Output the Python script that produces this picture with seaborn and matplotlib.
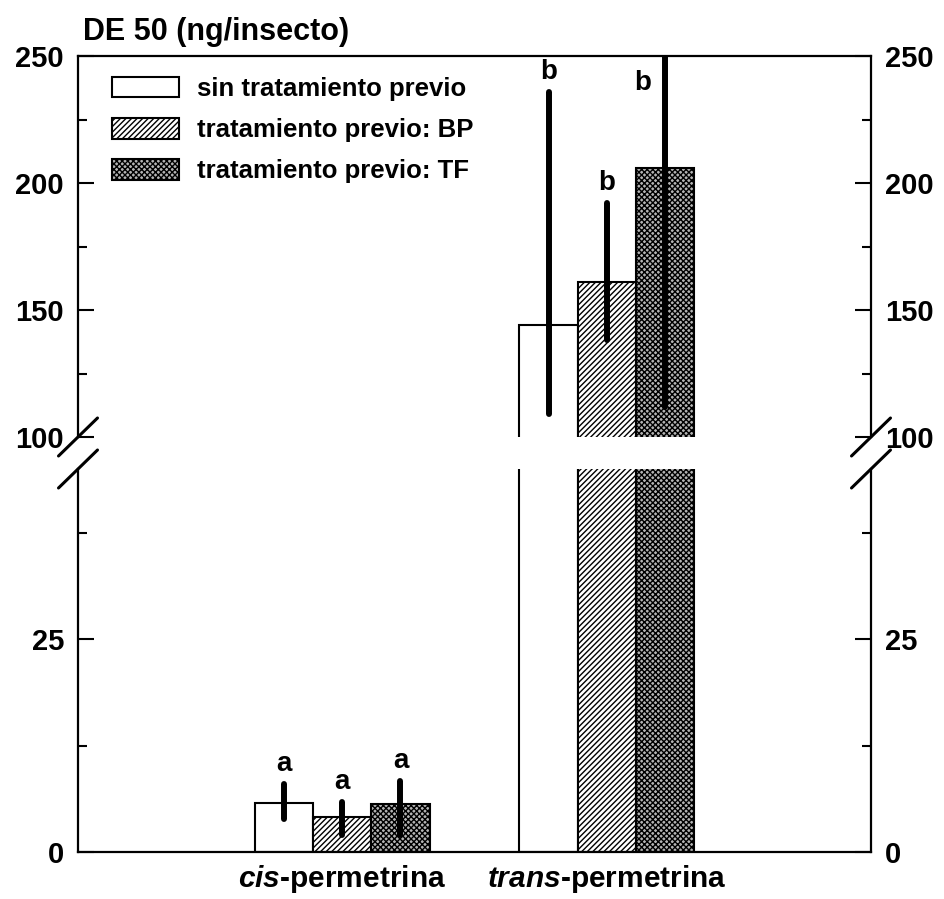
import numpy as np
import pandas as pd
import matplotlib
matplotlib.use("Agg")
import matplotlib.pyplot as plt
import seaborn as sns
from matplotlib.patches import Patch
from matplotlib.lines import Line2D
from matplotlib.ticker import FixedLocator

sns.set_theme(style="white")
plt.rcParams["font.family"] = ["Liberation Sans", "DejaVu Sans"]
plt.rcParams["font.weight"] = "bold"
plt.rcParams["text.color"] = "black"
plt.rcParams["mathtext.fontset"] = "custom"
plt.rcParams["mathtext.it"] = "Liberation Sans:italic:bold"
plt.rcParams["mathtext.rm"] = "Liberation Sans:bold"
plt.rcParams["hatch.linewidth"] = 1.0

# ---- data -------------------------------------------------------------
insecticides = ["cis", "trans"]
tick_labels = [r"$\it{cis}$-permetrina", r"$\it{trans}$-permetrina"]
treatments = ["sin tratamiento previo", "tratamiento previo: BP", "tratamiento previo: TF"]

de50_cis = [5.8, 4.1, 5.6]
de50_trans = [144, 161, 206]
low_cis = [3.9, 2.0, 2.0]
high_cis = [8.0, 5.9, 8.3]
low_trans = [109, 138, 112]
high_trans = [236, 192, 300]
letters_cis = ["a", "a", "a"]
letters_trans = ["b", "b", "b"]

rows = []
for i, t in enumerate(treatments):
    rows.append(("cis", t, de50_cis[i], low_cis[i], high_cis[i], letters_cis[i]))
    rows.append(("trans", t, de50_trans[i], low_trans[i], high_trans[i], letters_trans[i]))
df = pd.DataFrame(rows, columns=["insecticida", "tratamiento", "de50", "lo", "hi", "letra"])

# ---- styles -----------------------------------------------------------
face = {treatments[0]: "white", treatments[1]: "white", treatments[2]: "#b4b4b4"}
hatch = {treatments[0]: "", treatments[1]: "//////", treatments[2]: "xxxxxx"}

W, H = 945, 899
fig = plt.figure(figsize=(W / 100, H / 100), dpi=100)
left, right = 78 / W, 871 / W
ax_up = fig.add_axes([left, 1 - 437 / H, right - left, (437 - 56) / H])
ax_lo = fig.add_axes([left, 1 - 852 / H, right - left, (852 - 469) / H])

for ax in (ax_up, ax_lo):
    sns.barplot(data=df, x="insecticida", y="de50", hue="tratamiento",
                order=insecticides, hue_order=treatments, width=0.66,
                errorbar=None, legend=False, ax=ax)
    for t, cont in zip(treatments, ax.containers):
        for bar, cat in zip(cont, insecticides):
            bar.set_facecolor(face[t])
            bar.set_edgecolor("black")
            bar.set_linewidth(1.5)
            bar.set_hatch(hatch[t])
            r = df[(df.tratamiento == t) & (df.insecticida == cat)].iloc[0]
            xc = bar.get_x() + bar.get_width() / 2
            ax.plot([xc, xc], [r.lo, r.hi], color="black", lw=4.3,
                    solid_capstyle="round", zorder=5)
    ax.set_xlim(-1, 2)
    ax.set_xlabel("")
    ax.set_ylabel("")
    for s in ax.spines.values():
        s.set_color("black")
        s.set_linewidth(1.6)
    ax.tick_params(axis="y", which="both", direction="in", left=True, right=True,
                   labelleft=True, labelright=True, colors="black", labelsize=21,
                   pad=10, width=1.5)
    ax.tick_params(axis="y", which="major", length=11.5)
    ax.tick_params(axis="y", which="minor", length=6.5)

ax_up.set_ylim(100, 250)
ax_lo.set_ylim(0, 45)

# letter annotations above the error bars
for ax, cat_here in ((ax_up, "trans"), (ax_lo, "cis")):
    ytop = ax.get_ylim()[1]
    for t, cont in zip(treatments, ax.containers):
        for bar, cat in zip(cont, insecticides):
            if cat != cat_here:
                continue
            r = df[(df.tratamiento == t) & (df.insecticida == cat)].iloc[0]
            xc = bar.get_x() + bar.get_width() / 2
            if r.hi > ytop:
                ax.annotate(r.letra, (xc, ytop), xytext=(-16, -10),
                            textcoords="offset points", ha="center", va="top",
                            fontsize=20, fontweight="bold", color="black")
            else:
                ax.annotate(r.letra, (xc, r.hi), xytext=(0, 5),
                            textcoords="offset points", ha="center", va="bottom",
                            fontsize=20, fontweight="bold", color="black")

ax_up.yaxis.set_major_locator(FixedLocator([100, 150, 200, 250]))
ax_up.yaxis.set_minor_locator(FixedLocator([125, 175, 225]))
ax_up.spines["bottom"].set_visible(False)
ax_up.tick_params(axis="x", bottom=False, labelbottom=False)

ax_lo.yaxis.set_major_locator(FixedLocator([0, 25]))
ax_lo.yaxis.set_minor_locator(FixedLocator([12.5, 37.5]))
ax_lo.spines["top"].set_visible(False)
ax_lo.set_xticks(range(len(insecticides)))
ax_lo.set_xticklabels(tick_labels)
ax_lo.tick_params(axis="x", bottom=False, labelsize=21.5, pad=2, colors="black")

# broken-axis marks on both spines
for yb in (437, 469):
    for xs in (78, 871):
        fig.add_artist(Line2D([(xs - 19.5) / W, (xs + 19.5) / W],
                              [1 - (yb + 19) / H, 1 - (yb - 19) / H],
                              transform=fig.transFigure, color="black", lw=2.2))

# legend
handles = [Patch(facecolor=face[t], edgecolor="black", hatch=hatch[t], linewidth=1.5)
           for t in treatments]
leg = ax_up.legend(handles, treatments, loc="upper left",
                   bbox_to_anchor=((112 - 78) / 793, (437 - 77) / 381),
                   frameon=False, borderpad=0, borderaxespad=0,
                   handlelength=2.6, handleheight=0.85, labelspacing=0.66,
                   handletextpad=0.7, prop={"weight": "bold", "size": 18.5})
for txt in leg.get_texts():
    txt.set_color("black")

fig.text(83 / W, 1 - 32 / H, "DE 50 (ng/insecto)", fontsize=22, fontweight="bold",
         va="center", ha="left", color="black")

fig.savefig("out.png", dpi=100, facecolor="white")
